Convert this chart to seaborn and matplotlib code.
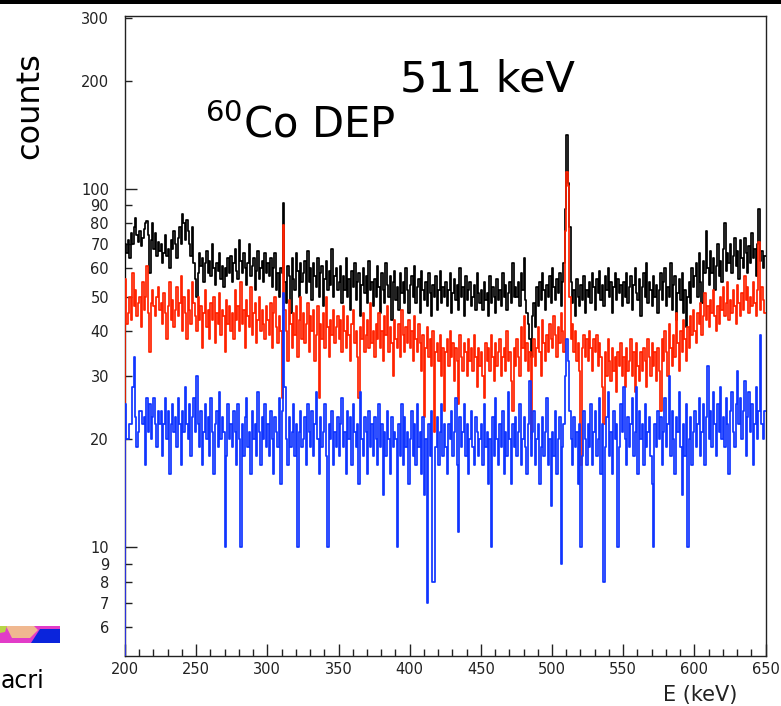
import numpy as np
import pandas as pd
import matplotlib
matplotlib.use("Agg")
import matplotlib.pyplot as plt
from matplotlib.patches import Rectangle, Polygon
import seaborn as sns

# 1 keV bins from 200 to 650 keV
energy_edges = list(range(200, 651, 1))

# counts per bin, one row = 25 keV
counts_black = (
    [70, 66, 72, 64, 75, 70, 78, 83, 74, 71, 76, 69, 73, 77, 80, 81, 74, 58, 72, 80, 68, 75, 65, 71, 67]
    + [70, 62, 66, 74, 65, 68, 60, 72, 68, 76, 70, 64, 73, 78, 70, 85, 80, 72, 82, 76, 70, 65, 78, 62, 56]
    + [50, 58, 66, 61, 64, 55, 62, 67, 58, 63, 57, 70, 60, 54, 62, 59, 66, 56, 61, 53, 60, 57, 64, 58, 65]
    + [55, 62, 68, 59, 56, 72, 63, 58, 66, 60, 54, 62, 70, 57, 61, 64, 52, 59, 67, 56, 60, 63, 55, 66, 58]
    + [62, 57, 64, 53, 60, 66, 52, 58, 50, 60, 58, 91, 55, 48, 61, 57, 45, 64, 56, 52, 66, 59, 50, 62, 55]
    + [58, 63, 51, 67, 55, 60, 49, 62, 57, 53, 64, 50, 58, 61, 47, 56, 63, 52, 59, 54, 68, 50, 57, 60, 52]
    + [55, 61, 48, 57, 52, 64, 50, 56, 46, 59, 53, 62, 49, 55, 58, 44, 54, 60, 51, 57, 48, 63, 52, 55, 47]
    + [56, 50, 61, 53, 45, 58, 52, 48, 62, 54, 50, 57, 43, 55, 59, 49, 53, 46, 58, 51, 55, 48, 60, 52, 45]
    + [54, 57, 50, 61, 48, 53, 56, 45, 59, 52, 49, 55, 47, 58, 51, 44, 54, 50, 57, 46, 52, 59, 48, 53, 50]
    + [55, 47, 52, 58, 45, 51, 56, 49, 54, 46, 60, 50, 53, 44, 57, 49, 52, 55, 47, 50, 54, 46, 58, 51, 48]
    + [52, 46, 55, 49, 51, 44, 57, 48, 53, 50, 45, 56, 49, 52, 47, 58, 50, 54, 46, 51, 55, 48, 62, 50, 53]
    + [50, 55, 47, 58, 52, 64, 49, 45, 42, 38, 34, 44, 48, 41, 53, 47, 55, 49, 58, 52, 46, 54, 50, 57, 48]
    + [60, 53, 49, 56, 51, 58, 47, 55, 62, 88, 141, 104, 78, 55, 48, 52, 44, 56, 50, 47, 54, 49, 57, 45, 52]
    + [50, 55, 48, 58, 53, 46, 56, 51, 59, 49, 54, 47, 57, 52, 60, 50, 55, 45, 53, 58, 49, 56, 51, 54, 47]
    + [55, 50, 58, 48, 53, 57, 46, 54, 60, 51, 49, 56, 44, 53, 58, 50, 62, 48, 55, 52, 47, 57, 50, 54, 45]
    + [52, 58, 49, 55, 60, 47, 53, 50, 62, 46, 54, 57, 43, 51, 56, 49, 58, 45, 52, 41, 50, 55, 48, 60, 53]
    + [57, 62, 50, 66, 55, 48, 63, 58, 76, 60, 54, 67, 58, 64, 52, 61, 70, 57, 63, 55, 68, 80, 59, 66, 62]
    + [70, 58, 65, 73, 61, 67, 56, 72, 64, 60, 73, 66, 58, 69, 62, 75, 64, 68, 57, 70, 88, 63, 67, 60, 65]
)

counts_red = (
    [56, 42, 45, 50, 43, 58, 47, 52, 44, 48, 50, 41, 55, 46, 50, 61, 45, 35, 48, 52, 47, 44, 50, 53, 46]
    + [48, 42, 51, 45, 38, 47, 55, 43, 49, 41, 46, 53, 44, 48, 57, 40, 50, 45, 38, 52, 46, 42, 55, 48, 44]
    + [40, 50, 43, 47, 36, 45, 52, 41, 46, 38, 48, 43, 50, 37, 45, 42, 51, 39, 46, 44, 35, 49, 42, 47, 40]
    + [45, 38, 52, 43, 47, 40, 55, 42, 46, 36, 49, 44, 41, 53, 39, 45, 48, 37, 43, 50, 40, 46, 42, 38, 47]
    + [43, 39, 48, 36, 45, 50, 41, 37, 44, 40, 26, 79, 46, 40, 33, 49, 42, 36, 45, 39, 47, 34, 43, 50, 38]
    + [45, 37, 42, 48, 35, 44, 40, 46, 33, 39, 47, 26, 42, 38, 45, 36, 50, 41, 34, 43, 39, 46, 37, 41, 44]
    + [38, 43, 35, 47, 40, 36, 44, 39, 33, 42, 46, 37, 40, 34, 26, 41, 38, 45, 35, 39, 43, 36, 48, 37, 40]
    + [34, 42, 38, 45, 36, 40, 33, 44, 39, 47, 35, 41, 37, 30, 43, 38, 36, 42, 34, 46, 39, 35, 41, 37, 43]
    + [36, 40, 33, 44, 38, 35, 42, 37, 31, 39, 23, 36, 41, 34, 38, 32, 40, 21, 35, 37, 33, 39, 30, 36, 24]
    + [35, 38, 32, 40, 34, 37, 29, 36, 33, 25, 39, 34, 31, 37, 35, 30, 38, 33, 36, 31, 39, 34, 28, 36, 32]
    + [35, 30, 26, 37, 33, 36, 31, 39, 34, 29, 37, 32, 35, 38, 30, 34, 36, 31, 40, 33, 35, 29, 24, 36, 32]
    + [38, 34, 30, 41, 36, 44, 33, 37, 31, 35, 20, 34, 38, 32, 36, 41, 35, 30, 43, 37, 33, 39, 35, 42, 38]
    + [36, 44, 39, 34, 41, 37, 45, 40, 35, 76, 111, 102, 50, 38, 42, 35, 40, 33, 37, 31, 17, 36, 39, 34, 38]
    + [33, 40, 36, 31, 38, 35, 39, 32, 37, 34, 28, 22, 35, 30, 38, 33, 29, 36, 31, 34, 27, 35, 32, 37, 30]
    + [34, 28, 36, 31, 33, 38, 30, 35, 27, 37, 32, 29, 35, 31, 36, 33, 28, 38, 34, 30, 37, 32, 35, 29, 36]
    + [31, 24, 38, 33, 40, 35, 30, 42, 36, 32, 39, 34, 45, 37, 31, 40, 35, 43, 38, 33, 41, 36, 44, 39, 46]
    + [40, 37, 45, 42, 48, 39, 44, 51, 43, 47, 41, 49, 45, 52, 44, 40, 47, 42, 50, 46, 53, 44, 48, 55, 43]
    + [49, 45, 52, 47, 42, 54, 48, 44, 51, 46, 57, 49, 53, 45, 50, 47, 55, 48, 44, 52, 71, 46, 53, 49, 45]
)

counts_blue = (
    [25, 20, 20, 22, 22, 28, 34, 23, 19, 21, 24, 24, 22, 23, 17, 26, 21, 25, 20, 23, 26, 22, 19, 24, 22]
    + [24, 18, 22, 26, 20, 24, 16, 22, 25, 21, 23, 19, 26, 22, 17, 24, 21, 28, 22, 20, 25, 18, 23, 26, 21]
    + [30, 22, 19, 24, 17, 21, 25, 20, 23, 18, 26, 21, 16, 22, 24, 19, 27, 20, 23, 21, 10, 18, 25, 20, 22]
    + [19, 24, 21, 17, 25, 20, 10, 22, 18, 23, 26, 19, 21, 16, 24, 20, 22, 18, 27, 21, 17, 23, 20, 25, 19]
    + [22, 18, 24, 20, 16, 23, 21, 19, 26, 15, 24, 51, 28, 20, 17, 23, 19, 21, 25, 18, 22, 10, 21, 24, 19]
    + [20, 23, 17, 25, 21, 19, 24, 18, 22, 27, 20, 16, 23, 19, 21, 25, 18, 10, 22, 20, 24, 17, 21, 19, 23]
    + [18, 22, 26, 19, 21, 16, 24, 20, 23, 17, 25, 21, 19, 22, 15, 27, 20, 18, 23, 21, 16, 24, 19, 22, 18]
    + [23, 20, 17, 25, 19, 22, 14, 21, 18, 24, 20, 16, 23, 19, 21, 20, 10, 22, 18, 25, 17, 23, 19, 21, 15]
    + [20, 24, 18, 22, 17, 25, 19, 21, 16, 23, 14, 20, 7, 22, 18, 24, 8, 8, 19, 23, 17, 21, 25, 18, 22]
    + [19, 16, 22, 20, 24, 18, 21, 26, 17, 11, 23, 19, 21, 25, 18, 22, 16, 20, 24, 19, 17, 23, 21, 18, 20]
    + [22, 17, 25, 19, 21, 15, 20, 10, 23, 18, 26, 20, 17, 22, 19, 24, 16, 21, 18, 27, 20, 15, 22, 19, 23]
    + [18, 21, 25, 17, 20, 23, 19, 16, 22, 29, 18, 21, 24, 17, 20, 22, 15, 19, 23, 18, 21, 26, 17, 20, 13]
    + [21, 18, 24, 16, 20, 23, 9, 19, 22, 30, 38, 33, 24, 20, 17, 23, 19, 21, 15, 22, 10, 18, 24, 20, 17]
    + [22, 19, 25, 17, 21, 24, 18, 20, 26, 16, 22, 8, 19, 23, 27, 18, 21, 16, 24, 20, 22, 10, 19, 25, 21]
    + [28, 20, 17, 23, 19, 22, 26, 18, 21, 28, 16, 24, 20, 22, 17, 25, 19, 21, 23, 18, 15, 10, 22, 19, 24]
    + [20, 23, 17, 21, 26, 19, 22, 30, 18, 24, 20, 16, 23, 21, 27, 19, 14, 22, 18, 25, 10, 20, 23, 17, 21]
    + [24, 19, 22, 26, 18, 21, 25, 17, 23, 32, 20, 24, 19, 27, 22, 18, 25, 21, 28, 20, 23, 19, 26, 22, 16]
    + [24, 27, 21, 19, 25, 31, 22, 26, 20, 24, 29, 18, 23, 27, 21, 25, 17, 22, 28, 20, 24, 39, 22, 20, 24]
)

series = [
    ("black", counts_black, "#000000"),
    ("red", counts_red, "#ff2200"),
    ("blue", counts_blue, "#1035ff"),
]

y_major = [10, 100]
y_minor = [6, 7, 8, 9, 20, 30, 40, 50, 60, 70, 80, 90, 200, 300]

for name, c, _ in series:
    assert len(c) == len(energy_edges) - 1, (name, len(c))

sns.set_style("white")
plt.rcParams["font.family"] = ["DejaVu Sans"]
plt.rcParams["text.color"] = "black"

W, H = 781, 706
fig = plt.figure(figsize=(W / 100, H / 100), dpi=100)
ax = fig.add_axes([125 / W, 50 / H, 640.5 / W, 640 / H])

centers = np.array(energy_edges[:-1]) + 0.5
y_lo, y_hi = 4.97, 303
lw = 1.25
for name, c, col in series:
    df = pd.DataFrame({"E": centers, "n": c})
    sns.histplot(data=df, x="E", weights="n", bins=energy_edges, element="step",
                 fill=False, color=col, linewidth=lw, ax=ax)
    # ROOT draws the first bin edge down from the frame bottom
    ax.plot([energy_edges[0], energy_edges[0]], [y_lo, c[0]], color=col, lw=lw)

ax.set_yscale("log")
ax.set_xlim(200, 650)
ax.set_ylim(y_lo, y_hi)
ax.set_xlabel("")
ax.set_ylabel("")

ax.set_xticks(range(200, 651, 50))
ax.set_xticks(range(200, 651, 10), minor=True)
ax.set_yticks(y_major, labels=[str(v) for v in y_major])
ax.set_yticks(y_minor, labels=[str(v) for v in y_minor], minor=True)

tick_col = "#222222"
ax.tick_params(which="both", direction="in", top=False, right=False,
               left=True, bottom=True, color=tick_col, width=1.0,
               labelsize=10.5, labelcolor="#222222")
ax.tick_params(which="major", length=8.8)
ax.tick_params(which="minor", length=5.0)
ax.tick_params(axis="y", which="both", pad=11.5)
ax.tick_params(axis="x", which="both", pad=4.5)
for sp in ax.spines.values():
    sp.set_color(tick_col)
    sp.set_linewidth(1.0)
    sp.set_zorder(1)

# annotations
fig.text(30 / W, 1 - 106 / H, "counts", rotation=90, ha="center", va="center", fontsize=23)
fig.text(737 / W, 1 - 695 / H, "E (keV)", ha="right", va="center", fontsize=15, color="#222222")
fig.text(400 / W, 1 - 92 / H, "511 keV", ha="left", va="baseline", fontsize=31)
fig.text(205 / W, 1 - 137 / H, r"$^{60}$Co DEP", ha="left", va="baseline", fontsize=30)

# slide decorations around the plot
fig.add_artist(Rectangle((0, 1 - 3.5 / H), 1, 3.5 / H, transform=fig.transFigure,
                         color="black", lw=0))


def px_poly(pts, col):
    xy = [(x / W, 1 - y / H) for x, y in pts]
    fig.add_artist(Polygon(xy, closed=True, transform=fig.transFigure, color=col, lw=0))


px_poly([(0, 626), (60, 626), (60, 643), (0, 643)], "#e23cc8")
px_poly([(6, 626), (34, 626), (38, 630), (30, 638), (12, 638)], "#f0b890")
px_poly([(0, 626), (7, 626), (5, 632), (0, 633)], "#b8d448")
px_poly([(40, 629), (60, 629), (60, 643), (31, 643)], "#0a24dc")
fig.text(1 / W, 1 - 688 / H, "acri", ha="left", va="baseline", fontsize=17)

fig.savefig("out.png", dpi=100)
